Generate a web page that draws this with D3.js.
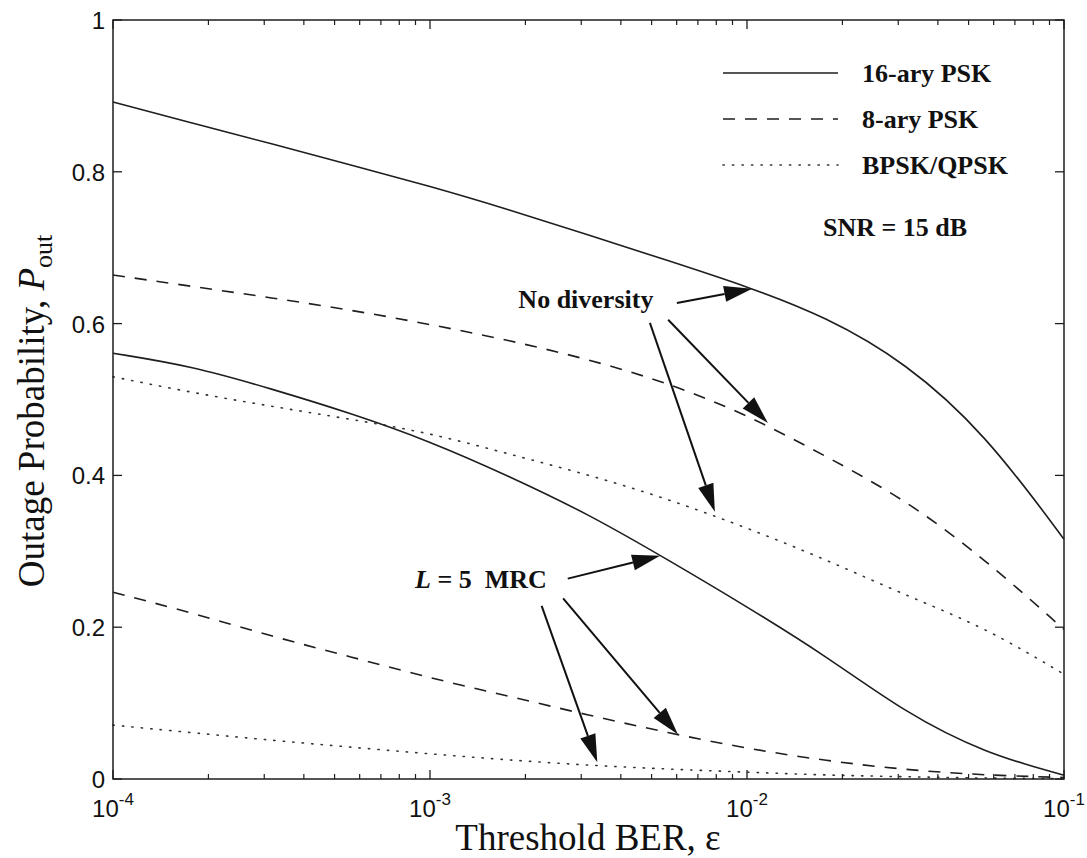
<!DOCTYPE html>
<html><head><meta charset="utf-8">
<script src="https://cdn.jsdelivr.net/npm/d3@7"></script>
<style>body{margin:0;background:#fff}</style>
</head><body>
<script>
// ---- data (x: threshold BER, y: outage probability) ----
const berGrid = [1e-4,1.778e-4,3.162e-4,5.623e-4,1e-3,1.778e-3,3.162e-3,5.623e-3,1e-2,1.778e-2,3.162e-2,5.623e-2,1e-1];
const psk16NoDiv = [0.892,0.864,0.837,0.809,0.781,0.750,0.717,0.683,0.649,0.609,0.549,0.456,0.316];
const psk8NoDiv  = [0.664,0.649,0.634,0.618,0.599,0.578,0.553,0.522,0.480,0.425,0.368,0.290,0.197];
const bpskNoDiv  = [0.530,0.509,0.491,0.474,0.456,0.428,0.401,0.369,0.331,0.289,0.242,0.200,0.138];
const psk16MRC   = [0.561,0.544,0.514,0.482,0.445,0.399,0.349,0.289,0.227,0.162,0.087,0.034,0.005];
const psk8MRC    = [0.246,0.219,0.188,0.161,0.133,0.109,0.084,0.061,0.040,0.024,0.012,0.005,0.002];
const bpskMRC    = [0.071,0.061,0.051,0.042,0.033,0.025,0.018,0.013,0.009,0.005,0.003,0.001,0.0005];
const xTicks = [1e-4,1e-3,1e-2,1e-1];
const xTickExp = ["-4","-3","-2","-1"];
const yTicks = [0,0.2,0.4,0.6,0.8,1];
const yTickLabels = ["0","0.2","0.4","0.6","0.8","1"];
const legendNames = ["16-ary PSK","8-ary PSK","BPSK/QPSK"];
// annotation arrows in data coordinates: [fromX, fromY, toX, toY]
const noDivArrows = [[0.00601,0.627,0.01038,0.646],[0.00564,0.605,0.01164,0.469],[0.00494,0.601,0.00792,0.352]];
const mrcArrows   = [[0.00272,0.264,0.00532,0.294],[0.00263,0.238,0.00605,0.059],[0.00225,0.228,0.00337,0.022]];

const W=1087,H=858;
const m={l:113,r:1064,t:20,b:779};
const svg=d3.select("body").append("svg").attr("width",W).attr("height",H).style("background","#fff");
const x=d3.scaleLog().domain([1e-4,1e-1]).range([m.l,m.r]);
const y=d3.scaleLinear().domain([0,1]).range([m.b,m.t]);
const ink="#1e1e1e";
const styles={solid:null,dash:"12,10",dot:"1.3,8.2"};
const serif="Liberation Serif, Times New Roman, serif";
const sans="Liberation Sans, Arial, sans-serif";

// curves
const line=d3.line().x((d,i)=>x(berGrid[i])).y(d=>y(d)).curve(d3.curveBasis);
const series=[[psk16NoDiv,"solid"],[psk8NoDiv,"dash"],[bpskNoDiv,"dot"],[psk16MRC,"solid"],[psk8MRC,"dash"],[bpskMRC,"dot"]];
const g=svg.append("g");
series.forEach(([vals,st])=>{
  g.append("path").attr("d",line(vals)).attr("fill","none").attr("stroke",st==="dot"?"#333":ink)
   .attr("stroke-width",1.6).attr("stroke-dasharray",styles[st]).attr("stroke-linecap",st==="dot"?"round":"butt");
});

// box
svg.append("rect").attr("x",m.l).attr("y",m.t).attr("width",m.r-m.l).attr("height",m.b-m.t)
  .attr("fill","none").attr("stroke",ink).attr("stroke-width",1.5);

// y ticks
yTicks.forEach((v,i)=>{
  svg.append("line").attr("x1",m.l).attr("x2",m.l+9).attr("y1",y(v)).attr("y2",y(v)).attr("stroke",ink).attr("stroke-width",1.3);
  svg.append("line").attr("x1",m.r).attr("x2",m.r-9).attr("y1",y(v)).attr("y2",y(v)).attr("stroke",ink).attr("stroke-width",1.3);
  svg.append("text").attr("x",m.l-8).attr("y",y(v)+9).attr("text-anchor","end")
    .attr("font-family",sans).attr("font-size",24).attr("fill","#111").text(yTickLabels[i]);
});
// x ticks (major + minor)
const minor=[];
xTicks.slice(0,3).forEach(d=>{for(let k=2;k<=9;k++)minor.push(d*k);});
minor.forEach(v=>{
  svg.append("line").attr("x1",x(v)).attr("x2",x(v)).attr("y1",m.b).attr("y2",m.b-5).attr("stroke",ink).attr("stroke-width",1.2);
  svg.append("line").attr("x1",x(v)).attr("x2",x(v)).attr("y1",m.t).attr("y2",m.t+5).attr("stroke",ink).attr("stroke-width",1.2);
});
xTicks.forEach((v,i)=>{
  svg.append("line").attr("x1",x(v)).attr("x2",x(v)).attr("y1",m.b).attr("y2",m.b-9).attr("stroke",ink).attr("stroke-width",1.3);
  svg.append("line").attr("x1",x(v)).attr("x2",x(v)).attr("y1",m.t).attr("y2",m.t+9).attr("stroke",ink).attr("stroke-width",1.3);
  const t=svg.append("text").attr("x",x(v)).attr("y",817).attr("text-anchor","middle")
    .attr("font-family",sans).attr("font-size",24).attr("fill","#111");
  t.append("tspan").text("10");
  t.append("tspan").attr("dy",-12).attr("font-size",17).text(xTickExp[i]);
});

// axis titles
svg.append("text").attr("x",588).attr("y",850).attr("text-anchor","middle")
  .attr("font-family",serif).attr("font-size",37).attr("fill","#111")
  .text("Threshold BER, ε");
const yl=svg.append("text").attr("transform",`translate(44,411) rotate(-90)`).attr("text-anchor","middle")
  .attr("font-family",serif).attr("font-size",37).attr("fill","#111");
yl.append("tspan").text("Outage Probability, ");
yl.append("tspan").attr("font-style","italic").text("P");
yl.append("tspan").attr("dy",8).attr("font-size",26).text("out");

// legend
const legY=[73,119,165];
["solid","dash","dot"].forEach((st,i)=>{
  svg.append("line").attr("x1",723).attr("x2",838).attr("y1",legY[i]).attr("y2",legY[i])
    .attr("stroke",st==="dot"?"#333":ink).attr("stroke-width",1.6).attr("stroke-dasharray",styles[st]).attr("stroke-linecap",st==="dot"?"round":"butt");
  svg.append("text").attr("x",862).attr("y",legY[i]+9).attr("font-family",serif).attr("font-weight","bold")
    .attr("font-size",26).attr("fill","#111").text(legendNames[i]);
});
svg.append("text").attr("x",823).attr("y",236).attr("font-family",serif).attr("font-weight","bold")
  .attr("font-size",26).attr("fill","#111").text("SNR = 15 dB");

// annotations
function arrow(a){
  const x1=x(a[0]),y1=y(a[1]),x2=x(a[2]),y2=y(a[3]);
  const dx=x2-x1,dy=y2-y1,L=Math.hypot(dx,dy),ux=dx/L,uy=dy/L;
  const hl=28,hw=8;
  const bx=x2-ux*hl,by=y2-uy*hl;
  svg.append("line").attr("x1",x1).attr("y1",y1).attr("x2",bx).attr("y2",by).attr("stroke","#111").attr("stroke-width",2);
  svg.append("path").attr("d",`M${x2},${y2}L${bx-uy*hw},${by+ux*hw}L${bx+uy*hw},${by-ux*hw}Z`).attr("fill","#111");
}
noDivArrows.forEach(arrow);
mrcArrows.forEach(arrow);
svg.append("text").attr("x",x(0.0019)).attr("y",y(0.621)).attr("font-family",serif).attr("font-weight","bold")
  .attr("font-size",26).attr("fill","#111").text("No diversity");
const lt=svg.append("text").attr("x",x(0.000897)).attr("y",y(0.252)).attr("font-family",serif).attr("font-weight","bold")
  .attr("font-size",26).attr("fill","#111").attr("xml:space","preserve");
lt.append("tspan").attr("font-style","italic").text("L");
lt.append("tspan").text(" = 5  MRC");
</script>
</body></html>
